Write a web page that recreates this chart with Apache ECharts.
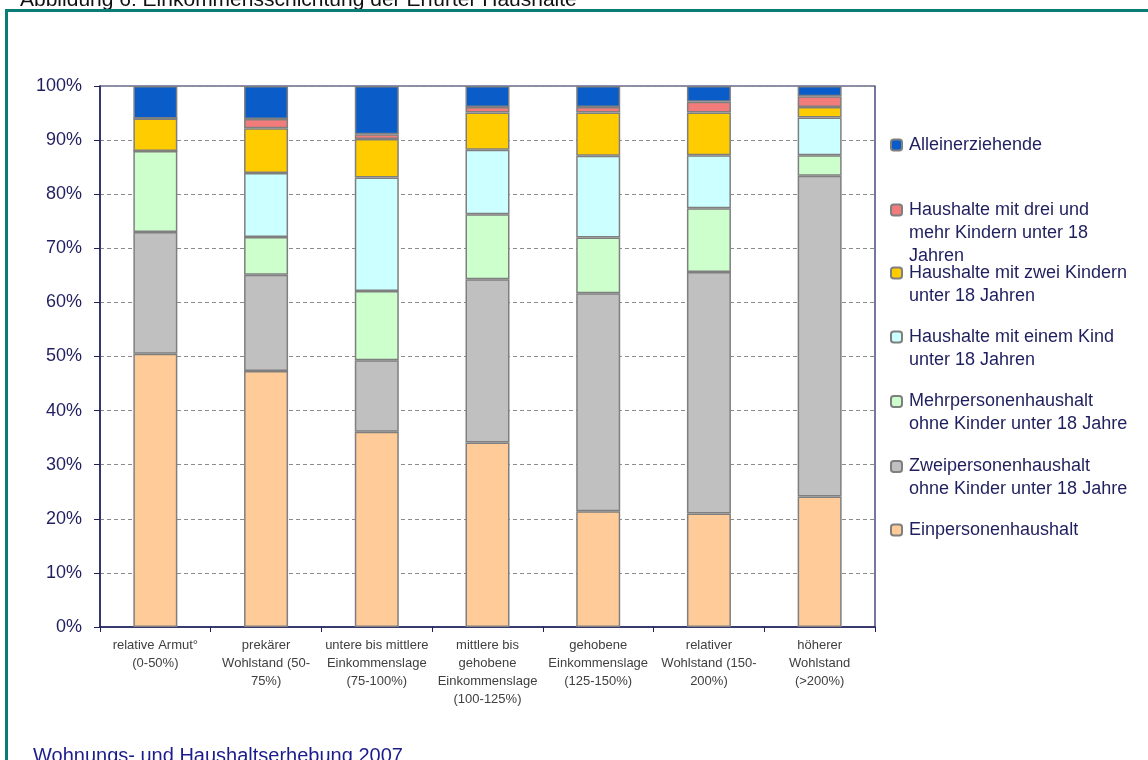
<!DOCTYPE html>
<html><head><meta charset="utf-8">
<script src="https://cdn.jsdelivr.net/npm/echarts@6/dist/echarts.min.js"></script>
<style>html,body{margin:0;padding:0;background:#fff}#c{width:1148px;height:760px}</style>
</head><body><div id="c"></div>
<script>
// ---- data ----
const categories = [
  'relative Armut°\n(0-50%)',
  'prekärer\nWohlstand (50-\n75%)',
  'untere bis mittlere\nEinkommenslage\n(75-100%)',
  'mittlere bis\ngehobene\nEinkommenslage\n(100-125%)',
  'gehobene\nEinkommenslage\n(125-150%)',
  'relativer\nWohlstand (150-\n200%)',
  'höherer\nWohlstand\n(>200%)'
];
const nameEin = 'Einpersonenhaushalt';
const nameZwei = 'Zweipersonenhaushalt\nohne Kinder unter 18 Jahre';
const nameMehr = 'Mehrpersonenhaushalt\nohne Kinder unter 18 Jahre';
const nameEinKind = 'Haushalte mit einem Kind\nunter 18 Jahren';
const nameZweiKinder = 'Haushalte mit zwei Kindern\nunter 18 Jahren';
const nameDreiKinder = 'Haushalte mit drei und\nmehr Kindern unter 18\nJahren';
const nameAllein = 'Alleinerziehende';

const einpersonen      = [50.5, 47.3, 36.1, 34.1, 21.4, 21.0, 24.1];
const zweipersonen     = [22.5, 17.8, 13.2, 30.2, 40.3, 44.6, 59.3];
const mehrpersonen     = [15.0,  7.0, 12.8, 12.0, 10.3, 11.8,  3.8];
const einKind          = [ 0.0, 11.8, 21.0, 11.9, 15.1,  9.8,  7.0];
const zweiKinder       = [ 6.0,  8.3,  7.1,  6.9,  8.0,  7.9,  1.9];
const dreiKinder       = [ 0.0,  1.7,  0.9,  1.0,  1.0,  2.0,  2.0];
const alleinerziehende = [ 6.0,  6.1,  8.9,  3.9,  3.9,  2.9,  1.9];

const titleText = 'Abbildung 6: Einkommensschichtung der Erfurter Haushalte';
const sourceText = 'Wohnungs- und Haushaltserhebung 2007';

// ---- chart ----
const chart = echarts.init(document.getElementById('c'), null, {renderer: 'canvas'});
const navy = '#1f1f5f';
const seriesDefs = [
  {name: nameEin, data: einpersonen, color: '#ffcc99'},
  {name: nameZwei, data: zweipersonen, color: '#c0c0c0'},
  {name: nameMehr, data: mehrpersonen, color: '#ccffcc'},
  {name: nameEinKind, data: einKind, color: '#ccffff'},
  {name: nameZweiKinder, data: zweiKinder, color: '#ffcc00'},
  {name: nameDreiKinder, data: dreiKinder, color: '#f27c7c'},
  {name: nameAllein, data: alleinerziehende, color: '#0a5cc8'}
];
const LH = 23;
// legend entries (top to bottom) with the y of their first text line
const legendLayout = [
  [nameAllein, 145], [nameDreiKinder, 210], [nameZweiKinder, 273],
  [nameEinKind, 337], [nameMehr, 401.5], [nameZwei, 466.5], [nameEin, 530]
];
const legends = legendLayout.map(([name, c]) => {
  const n = name.split('\n').length;
  return {
    orient: 'vertical', left: 890, top: c - LH / 2 - (n - 1) * LH, padding: 0,
    itemWidth: 11, itemHeight: 11, selectedMode: false,
    data: [name],
    formatter: nm => '\n'.repeat(n - 1) + nm,
    textStyle: {fontFamily: 'Liberation Sans, Arial, sans-serif', fontSize: 18, color: navy, lineHeight: LH, padding: [0, 0, 0, 2]}
  };
});

chart.setOption({
  animation: false,
  backgroundColor: '#ffffff',
  grid: {left: 100, right: 273, top: 86, bottom: 133, show: true, borderColor: navy, borderWidth: 1.2, containLabel: false},
  legend: legends,
  xAxis: {
    type: 'category', data: categories,
    axisLine: {lineStyle: {color: navy, width: 1.5}},
    axisTick: {show: true, length: 5, lineStyle: {color: navy, width: 1}},
    axisLabel: {interval: 0, margin: 9, fontFamily: 'Liberation Sans, Arial, sans-serif', fontSize: 13, lineHeight: 18, color: '#404040'},
    splitLine: {show: false}
  },
  yAxis: {
    type: 'value', min: 0, max: 100, interval: 10,
    axisLine: {show: true, lineStyle: {color: navy, width: 1.5}},
    axisTick: {show: true, length: 6, lineStyle: {color: navy, width: 1}},
    axisLabel: {formatter: '{value}%', margin: 18, fontFamily: 'Liberation Sans, Arial, sans-serif', fontSize: 18, color: navy},
    splitLine: {show: true, lineStyle: {color: '#8c8c8c', type: [4, 3], width: 1}}
  },
  series: seriesDefs.map(s => ({
    name: s.name, type: 'bar', stack: 'total', data: s.data, barWidth: 44,
    itemStyle: {color: s.color, borderColor: '#7f7f7f', borderWidth: 1.5},
    emphasis: {disabled: true}
  })),
  graphic: [
    {type: 'text', left: 20, top: -10, style: {text: titleText, font: '21px Liberation Sans, Arial, sans-serif', fill: '#111'}, z: -1},
    {type: 'line', shape: {x1: 5, y1: 10.5, x2: 1148, y2: 10.5}, style: {stroke: '#0a7c78', lineWidth: 3}},
    {type: 'line', shape: {x1: 6.5, y1: 9, x2: 6.5, y2: 760}, style: {stroke: '#0a7c78', lineWidth: 3}},
    {type: 'text', left: 33, top: 746, style: {text: sourceText, font: '20px Liberation Sans, Arial, sans-serif', fill: '#1c1c8c'}}
  ]
});
</script>
</body></html>
